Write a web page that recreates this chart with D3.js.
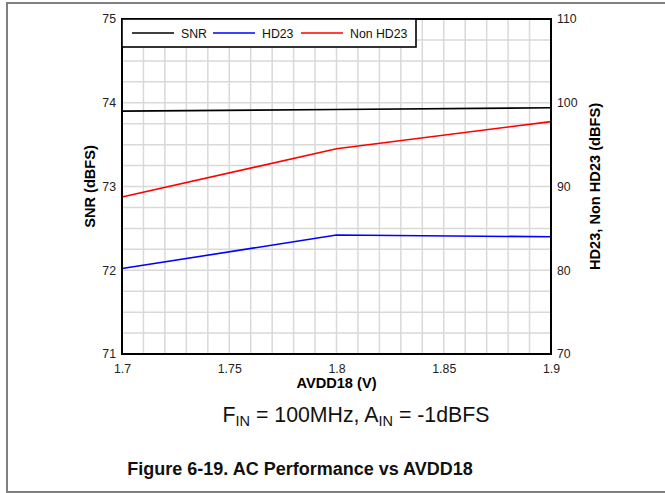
<!DOCTYPE html>
<html><head><meta charset="utf-8">
<script src="https://cdn.jsdelivr.net/npm/d3@7"></script>
<style>html,body{margin:0;padding:0;background:#fff}svg{display:block}</style>
</head><body>
<script>
const xValues = [1.7, 1.8, 1.9];
const snr = [73.90, 73.92, 73.94];
const hd23 = [80.2, 84.2, 84.0];
const nonHd23 = [88.75, 94.5, 97.75];
const xTicks = [1.7, 1.75, 1.8, 1.85, 1.9];
const yLeftTicks = [71, 72, 73, 74, 75];
const yRightTicks = [70, 80, 90, 100, 110];
const legendLabels = ["SNR", "HD23", "Non HD23"];
const colors = ["#000000", "#0000ff", "#ff0000"];

const W = 665, H = 493;
const m = {l: 122, r: 551, t: 19, b: 354};
const font = "Liberation Sans, Arial, sans-serif";

const svg = d3.select("body").append("svg").attr("width", W).attr("height", H)
  .style("font-family", font);

// outer frame
svg.append("path").attr("d", `M${W+5},3 H7 V492 H${W+5}`)
  .attr("fill", "none").attr("stroke", "#808080").attr("stroke-width", 2);

const x = d3.scaleLinear().domain([1.7, 1.9]).range([m.l, m.r]);
const yL = d3.scaleLinear().domain([71, 75]).range([m.b, m.t]);
const yR = d3.scaleLinear().domain([70, 110]).range([m.b, m.t]);

// grid
const g = svg.append("g");
g.selectAll("line.v").data(d3.range(1, 20)).join("line")
  .attr("x1", i => x(1.7 + i * 0.01)).attr("x2", i => x(1.7 + i * 0.01))
  .attr("y1", m.t).attr("y2", m.b).attr("stroke", "#d9d9d9").attr("stroke-width", 1.5);
g.selectAll("line.h").data(d3.range(1, 16)).join("line")
  .attr("y1", i => yL(71 + i * 0.25)).attr("y2", i => yL(71 + i * 0.25))
  .attr("x1", m.l).attr("x2", m.r).attr("stroke", "#d9d9d9").attr("stroke-width", 1.5);

// axes (tick labels only)
const axB = svg.append("g").attr("transform", `translate(0,${m.b})`)
  .call(d3.axisBottom(x).tickValues(xTicks).tickFormat(d3.format("")).tickSize(0).tickPadding(10));
const axL = svg.append("g").attr("transform", `translate(${m.l},0)`)
  .call(d3.axisLeft(yL).tickValues(yLeftTicks).tickFormat(d3.format("d")).tickSize(0).tickPadding(6));
const axR = svg.append("g").attr("transform", `translate(${m.r},0)`)
  .call(d3.axisRight(yR).tickValues(yRightTicks).tickFormat(d3.format("d")).tickSize(0).tickPadding(6));
[axB, axL, axR].forEach(a => {
  a.select(".domain").remove();
  a.selectAll("text").attr("font-size", 12.3).attr("font-family", font).attr("fill", "#222");
});

// lines
const lineL = d3.line().x((d, i) => x(xValues[i])).y(d => yL(d));
const lineR = d3.line().x((d, i) => x(xValues[i])).y(d => yR(d));
svg.append("path").attr("d", lineL(snr)).attr("fill", "none").attr("stroke", colors[0]).attr("stroke-width", 1.6);
svg.append("path").attr("d", lineR(hd23)).attr("fill", "none").attr("stroke", colors[1]).attr("stroke-width", 1.6);
svg.append("path").attr("d", lineR(nonHd23)).attr("fill", "none").attr("stroke", colors[2]).attr("stroke-width", 1.6);

// plot border
svg.append("rect").attr("x", m.l).attr("y", m.t).attr("width", m.r - m.l).attr("height", m.b - m.t)
  .attr("fill", "none").attr("stroke", "#000").attr("stroke-width", 2);

// legend
const lg = svg.append("g");
lg.append("rect").attr("x", m.l).attr("y", m.t).attr("width", 294).attr("height", 28)
  .attr("fill", "#fff").attr("stroke", "#000").attr("stroke-width", 1.6);
const lgX = [132, 213, 301];
legendLabels.forEach((lab, i) => {
  lg.append("line").attr("x1", lgX[i]).attr("x2", lgX[i] + 42).attr("y1", 33).attr("y2", 33)
    .attr("stroke", colors[i]).attr("stroke-width", 1.6);
  lg.append("text").attr("x", lgX[i] + 49).attr("y", 37.5).attr("font-size", 12.3).attr("fill", "#111").text(lab);
});

// axis titles
svg.append("text").attr("x", (m.l + m.r) / 2).attr("y", 388).attr("text-anchor", "middle")
  .attr("font-size", 14.6).attr("font-weight", "bold").text("AVDD18 (V)");
svg.append("text").attr("transform", `translate(95,${(m.t + m.b) / 2}) rotate(-90)`).attr("text-anchor", "middle")
  .attr("font-size", 14.6).attr("font-weight", "bold").text("SNR (dBFS)");
svg.append("text").attr("transform", `translate(600,${(m.t + m.b) / 2}) rotate(-90)`).attr("text-anchor", "middle")
  .attr("font-size", 14.6).attr("font-weight", "bold").text("HD23, Non HD23 (dBFS)");

// condition
const cond = svg.append("text").attr("x", 356).attr("y", 422).attr("text-anchor", "middle")
  .attr("font-size", 21.3).attr("fill", "#111");
cond.append("tspan").text("F");
cond.append("tspan").attr("font-size", 14.5).attr("dy", 4).text("IN");
cond.append("tspan").attr("dy", -4).text(" = 100MHz, A");
cond.append("tspan").attr("font-size", 14.5).attr("dy", 4).text("IN");
cond.append("tspan").attr("dy", -4).text(" = -1dBFS");

// caption
svg.append("text").attr("x", 300).attr("y", 475).attr("text-anchor", "middle")
  .attr("font-size", 18).attr("font-weight", "bold").attr("fill", "#111").text("Figure 6-19. AC Performance vs AVDD18");
</script>
</body></html>
